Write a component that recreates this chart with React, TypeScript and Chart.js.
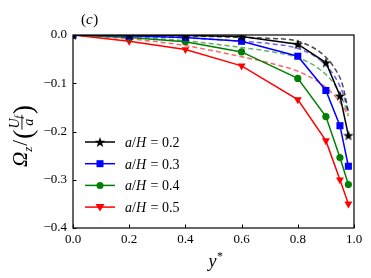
import React, { useEffect, useRef } from "react";
import { Chart, registerables } from "chart.js";

Chart.register(...registerables);

// ---- data ----
const ySolid = [0, 0.2, 0.4, 0.6, 0.8, 0.9, 0.95, 0.98];
const omega02 = [0, 0, -0.001, -0.003, -0.019, -0.057, -0.126, -0.208];
const omega03 = [0, -0.002, -0.005, -0.013, -0.044, -0.115, -0.188, -0.272];
const omega04 = [0, -0.005, -0.014, -0.035, -0.09, -0.169, -0.254, -0.31];
const omega05 = [0, -0.013, -0.03, -0.064, -0.134, -0.219, -0.3, -0.35];

const yDash = [0, 0.2, 0.4, 0.6, 0.7, 0.8, 0.88, 0.93, 0.96, 0.98];
const dash02 = [0, -0.001, -0.002, -0.005, -0.007, -0.013, -0.036, -0.068, -0.105, -0.16];
const dash03 = [0, -0.002, -0.006, -0.013, -0.018, -0.028, -0.052, -0.085, -0.12, -0.16];
const dash04 = [0, -0.004, -0.012, -0.026, -0.034, -0.047, -0.072, -0.102, -0.135, -0.165];
const dash05 = [0, -0.008, -0.022, -0.045, -0.058, -0.075, -0.1, -0.125, -0.148, -0.168];

const legendLabels = ["0.2", "0.3", "0.4", "0.5"];
const xTicks = [0, 0.2, 0.4, 0.6, 0.8, 1.0];
const yTicks = [0, -0.1, -0.2, -0.3, -0.4];

const SERIF = "'Liberation Serif', 'DejaVu Serif', serif";

function drawStar(ctx: CanvasRenderingContext2D, cx: number, cy: number, r: number, color: string) {
  ctx.save();
  ctx.beginPath();
  for (let i = 0; i < 10; i++) {
    const ang = -Math.PI / 2 + (i * Math.PI) / 5;
    const rr = i % 2 === 0 ? r : r * 0.4;
    const x = cx + rr * Math.cos(ang);
    const y = cy + rr * Math.sin(ang);
    if (i === 0) ctx.moveTo(x, y);
    else ctx.lineTo(x, y);
  }
  ctx.closePath();
  ctx.fillStyle = color;
  ctx.fill();
  ctx.restore();
}

function makeStarImage(): HTMLCanvasElement {
  const c = document.createElement("canvas");
  c.width = 12;
  c.height = 12;
  const ctx = c.getContext("2d")!;
  drawStar(ctx, 6, 6.5, 5.5, "#000");
  return c;
}

function drawMarker(ctx: CanvasRenderingContext2D, kind: string, x: number, y: number, color: string) {
  ctx.save();
  ctx.fillStyle = color;
  if (kind === "star") {
    drawStar(ctx, x, y + 0.5, 5.5, color);
  } else if (kind === "rect") {
    ctx.fillRect(x - 3.5, y - 3.5, 7, 7);
  } else if (kind === "circle") {
    ctx.beginPath();
    ctx.arc(x, y, 3.5, 0, Math.PI * 2);
    ctx.fill();
  } else if (kind === "tri") {
    ctx.beginPath();
    ctx.moveTo(x - 4.5, y - 3);
    ctx.lineTo(x + 4.5, y - 3);
    ctx.lineTo(x, y + 4.5);
    ctx.closePath();
    ctx.fill();
  }
  ctx.restore();
}

const decorPlugin = {
  id: "decor",
  afterDraw(chart: any) {
    const ctx: CanvasRenderingContext2D = chart.ctx;
    const { left, right, top, bottom } = chart.chartArea;
    const xs = chart.scales.x;
    const ys = chart.scales.y;
    ctx.save();
    // frame
    ctx.strokeStyle = "#000";
    ctx.lineWidth = 1.2;
    ctx.strokeRect(left, top, right - left, bottom - top);
    // inward ticks
    ctx.lineWidth = 1;
    ctx.beginPath();
    xTicks.forEach((v) => {
      const px = Math.round(xs.getPixelForValue(v)) + 0.5;
      ctx.moveTo(px, bottom);
      ctx.lineTo(px, bottom - 3.5);
    });
    yTicks.forEach((v) => {
      const py = Math.round(ys.getPixelForValue(v)) + 0.5;
      ctx.moveTo(left, py);
      ctx.lineTo(left + 3.5, py);
    });
    ctx.stroke();

    // (c)
    ctx.fillStyle = "#000";
    ctx.textBaseline = "alphabetic";
    ctx.textAlign = "left";
    ctx.font = `15px ${SERIF}`;
    ctx.fillText("(", 81, 24);
    const w = ctx.measureText("(").width;
    ctx.font = `italic 15px ${SERIF}`;
    ctx.fillText("c", 81 + w, 24);
    const wc = ctx.measureText("c").width;
    ctx.font = `15px ${SERIF}`;
    ctx.fillText(")", 81 + w + wc + 0.5, 24);

    // x title y*
    ctx.font = `italic 18px ${SERIF}`;
    const wy = ctx.measureText("y").width;
    const xt = (left + right) / 2 - 5;
    ctx.fillText("y", xt, 267);
    ctx.font = `12px ${SERIF}`;
    ctx.fillText("*", xt + wy + 0.5, 260);

    // y title Ω_z/(U_f/a) rotated
    ctx.save();
    ctx.translate(27, 131);
    ctx.rotate(-Math.PI / 2);
    let cx = -36;
    ctx.font = `italic 21px ${SERIF}`;
    ctx.fillText("Ω", cx, 0);
    cx += ctx.measureText("Ω").width;
    ctx.font = `italic 13px ${SERIF}`;
    ctx.fillText("z", cx, 5);
    cx += ctx.measureText("z").width + 1;
    ctx.font = `21px ${SERIF}`;
    ctx.fillText("/", cx, 0);
    cx += ctx.measureText("/").width + 1;
    ctx.font = `28px ${SERIF}`;
    ctx.fillText("(", cx, 5);
    cx += ctx.measureText("(").width;
    // fraction
    ctx.font = `italic 14px ${SERIF}`;
    const wu = ctx.measureText("U").width;
    ctx.font = `italic 10px ${SERIF}`;
    const wf = ctx.measureText("f").width;
    const fw = wu + wf + 2;
    ctx.font = `italic 14px ${SERIF}`;
    ctx.fillText("U", cx + 1, -8);
    ctx.font = `italic 10px ${SERIF}`;
    ctx.fillText("f", cx + 1 + wu, -5);
    ctx.fillRect(cx, -5.5, fw, 0.9);
    ctx.font = `italic 14px ${SERIF}`;
    const wa = ctx.measureText("a").width;
    ctx.fillText("a", cx + (fw - wa) / 2, 6);
    cx += fw + 0.5;
    ctx.font = `28px ${SERIF}`;
    ctx.fillText(")", cx, 5);
    ctx.restore();

    // legend
    const legendItems = [
      { kind: "star", color: "#000" },
      { kind: "rect", color: "#0000ff" },
      { kind: "circle", color: "#008000" },
      { kind: "tri", color: "#ff0000" },
    ];
    legendItems.forEach((it, i) => {
      const ly = 142 + i * 21.7;
      ctx.strokeStyle = it.color;
      ctx.lineWidth = 1.5;
      ctx.beginPath();
      ctx.moveTo(85, ly);
      ctx.lineTo(115, ly);
      ctx.stroke();
      drawMarker(ctx, it.kind, 100, ly, it.color);
      ctx.fillStyle = "#000";
      ctx.font = `italic 14px ${SERIF}`;
      ctx.fillText("a", 125, ly + 5);
      let tx = 125 + ctx.measureText("a").width;
      ctx.font = `14px ${SERIF}`;
      ctx.fillText("/", tx, ly + 5);
      tx += ctx.measureText("/").width;
      ctx.font = `italic 14px ${SERIF}`;
      ctx.fillText("H", tx, ly + 5);
      tx += ctx.measureText("H").width;
      ctx.font = `14px ${SERIF}`;
      ctx.fillText(" = " + legendLabels[i], tx + 1, ly + 5);
    });
    ctx.restore();
  },
};

function pts(xs: number[], ys: number[]) {
  return xs.map((x, i) => ({ x, y: ys[i] }));
}

export default function App() {
  const ref = useRef<HTMLCanvasElement | null>(null);
  useEffect(() => {
    document.body.style.margin = "0";
    const star = makeStarImage();
    const solid = (data: number[], color: string, style: any, radius: number, rot = 0) => ({
      data: pts(ySolid, data),
      borderColor: color,
      backgroundColor: color,
      borderWidth: 1.5,
      pointStyle: style,
      pointRadius: radius,
      pointRotation: rot,
      pointBorderWidth: 0,
      tension: 0,
      order: 0,
    });
    const dashed = (data: number[], color: string) => ({
      data: pts(yDash, data),
      borderColor: color,
      borderWidth: 1.5,
      borderDash: [5, 3],
      pointRadius: 0,
      cubicInterpolationMode: "monotone",
      order: 1,
    });
    const chart = new Chart(ref.current!, {
      type: "line",
      data: {
        datasets: [
          solid(omega02, "#000000", star, 6),
          solid(omega03, "#0000ff", "rect", 5),
          solid(omega04, "#008000", "circle", 3.6),
          solid(omega05, "#ff0000", "triangle", 4.6, 180),
          dashed(dash02, "rgba(0,0,0,0.7)"),
          dashed(dash03, "rgba(0,0,255,0.6)"),
          dashed(dash04, "rgba(0,128,0,0.6)"),
          dashed(dash05, "rgba(255,0,0,0.6)"),
        ] as any,
      },
      options: {
        animation: false,
        responsive: false,
        maintainAspectRatio: false,
        layout: { padding: { top: 35, right: 17, left: 0, bottom: 0 } },
        plugins: { legend: { display: false }, tooltip: { enabled: false } },
        scales: {
          x: {
            type: "linear",
            min: 0,
            max: 1,
            afterFit: (s: any) => {
              s.height = 50;
            },
            afterBuildTicks: (s: any) => {
              s.ticks = xTicks.map((v) => ({ value: v }));
            },
            grid: { display: false, drawTicks: false },
            border: { display: false },
            ticks: {
              color: "#000",
              font: { family: SERIF, size: 13 },
              padding: 4,
              maxRotation: 0,
              callback: (v: any) => Number(v).toFixed(1),
            },
          },
          y: {
            type: "linear",
            min: -0.4,
            max: 0,
            afterFit: (s: any) => {
              s.width = 73;
            },
            afterBuildTicks: (s: any) => {
              s.ticks = yTicks.map((v) => ({ value: v }));
            },
            grid: { display: false, drawTicks: false },
            border: { display: false },
            ticks: {
              color: "#000",
              font: { family: SERIF, size: 13 },
              padding: 6,
              callback: (v: any) => {
                const n = Number(v);
                if (Math.abs(n) < 1e-9) return "0.0";
                return n.toFixed(1).replace("-", "\u2212");
              },
            },
          },
        },
      } as any,
      plugins: [decorPlugin],
    });
    return () => chart.destroy();
  }, []);
  return (
    <div style={{ position: "fixed", left: 0, top: 0, width: 371, height: 278, background: "#fff" }}>
      <canvas ref={ref} width={371} height={278} style={{ width: 371, height: 278, display: "block" }} />
    </div>
  );
}
